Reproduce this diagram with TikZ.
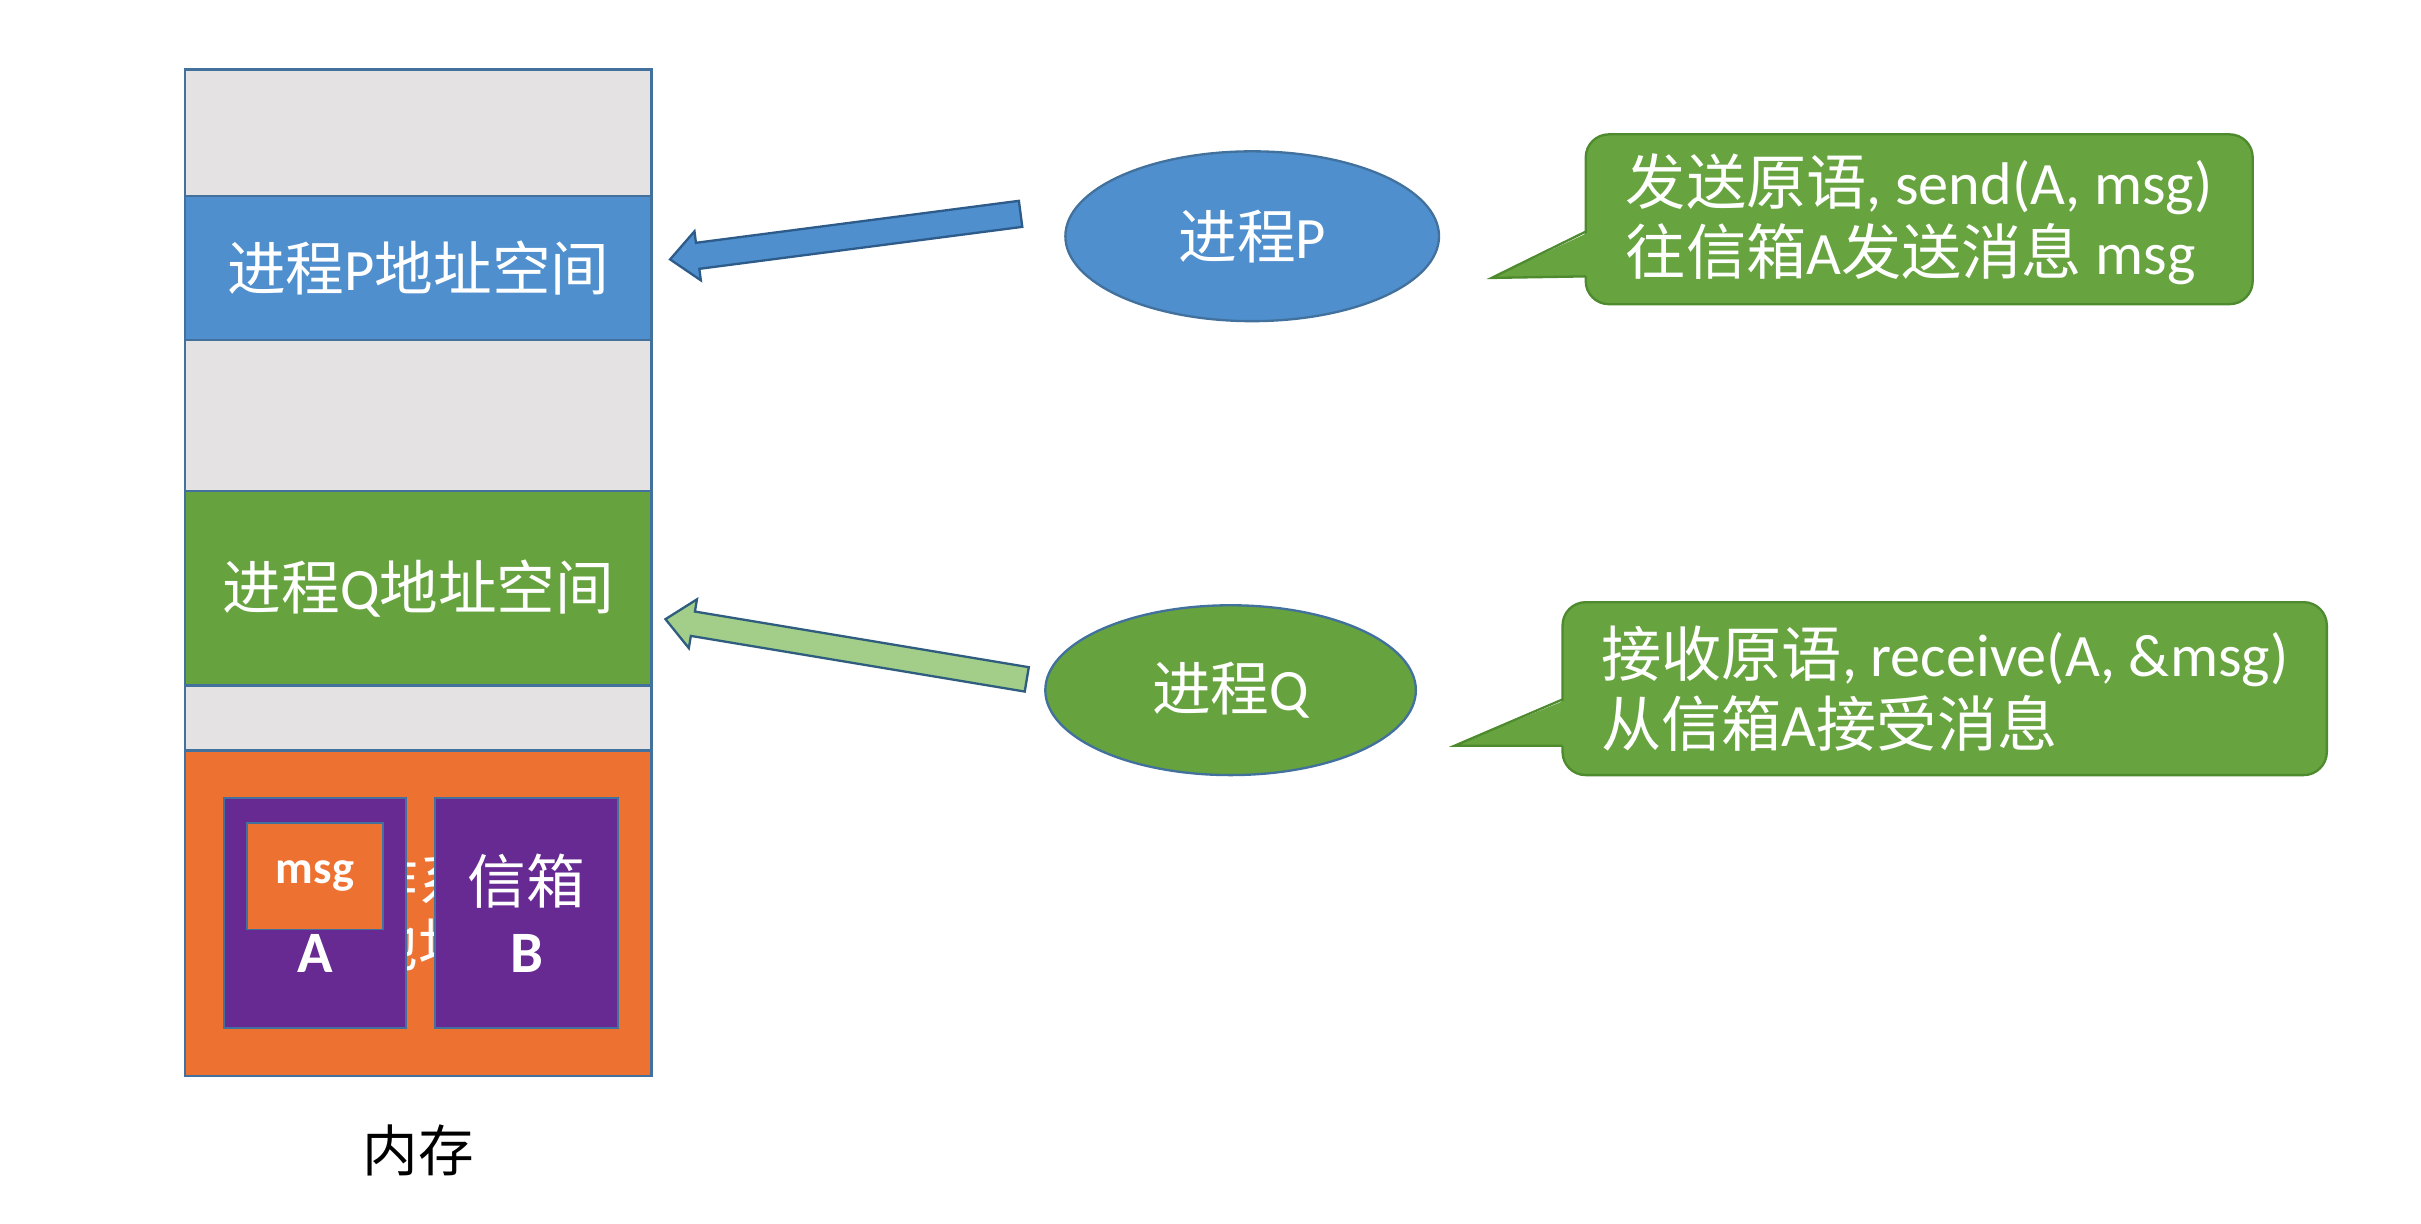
\documentclass[tikz,border=0pt]{standalone}
\usepackage{fontspec}
\setmainfont{Carlito}
\newfontfamily\cjk{Noto Sans CJK SC}
\newcommand{\zh}[1]{{\cjk #1}}
\usetikzlibrary{shapes.geometric, calc, positioning}

\definecolor{memgray}{HTML}{E4E2E3}
\definecolor{memline}{HTML}{41719C}
\definecolor{pblue}{HTML}{4F8FCE}
\definecolor{qgreen}{HTML}{66A23E}
\definecolor{kernorange}{HTML}{ED7131}
\definecolor{boxpurple}{HTML}{672A92}
\definecolor{notegreen}{HTML}{67A33F}
\definecolor{noteline}{HTML}{4E8A2E}
\definecolor{arrowgreen}{HTML}{A3CE89}
\definecolor{arrowblue}{HTML}{2E5C8A}
\definecolor{arrowline}{HTML}{2F5D80}

\begin{document}
\begin{tikzpicture}[x=1pt,y=-1pt,every node/.style={outer sep=0pt,inner sep=0pt,text=white,font=\fontsize{38}{45}\selectfont}]

\tikzstyle{band}=[draw=memline,line width=1.5pt,minimum width=302pt]
\tikzstyle{mailbox}=[draw=memline,line width=1.2pt,fill=boxpurple,minimum width=118pt,minimum height=149pt,align=center]
\tikzstyle{proc}=[ellipse,draw=memline,line width=1.5pt,minimum width=242pt,minimum height=110pt]
\tikzstyle{note}=[rectangle,rounded corners=15pt,draw=noteline,line width=1.5pt,fill=notegreen,align=left,font=\fontsize{39}{45}\selectfont]
\tikzstyle{blockarrow}=[line width=1.5pt,line join=miter]

\useasboundingbox (0,0) rectangle (1568,792.7);

% memory column
\node (freetop) [band,fill=memgray,minimum height=82pt] at (271,86) {};
\node (pspace) [band,fill=pblue,minimum height=93pt] at (271,173.5) {\zh{进程}P\zh{地址空间}};
\node (freemid) [band,fill=memgray,minimum height=98pt] at (271,269) {};
\node (qspace) [band,fill=qgreen,minimum height=126pt] at (271,381) {\zh{进程}Q\zh{地址空间}};
\node (freelow) [band,fill=memgray,minimum height=42pt] at (271,465) {};
\node (kernel) [band,fill=kernorange,minimum height=211pt] at (271,591.5) {};
\node (kerneltext) [align=center,font=\fontsize{38}{42}\selectfont] at (271,591) {\zh{操作系统}\\\zh{内核地址空间}};
\draw[memline,line width=1.5pt] (freetop.north west) rectangle (kernel.south east);

% mailboxes
\node (boxA) [mailbox] at (204,591.5) {\zh{信箱}\\\textbf{A}};
\node (boxB) [mailbox] at (341,591.5) {\zh{信箱}\\\textbf{B}};
\node (msgbox) [draw=memline,line width=1.2pt,fill=kernorange,minimum width=88pt,minimum height=69pt,font=\fontsize{30}{36}\selectfont\bfseries] at (204,567.5) {msg};

\node (memlabel) [text=black,font=\fontsize{36}{40}\selectfont] at (271,745) {\zh{内存}};

% processes
\node (procP) [proc,fill=pblue] at (811,153) {\zh{进程}P};
\node (procQ) [proc,fill=qgreen,minimum width=240pt] at (797,447) {\zh{进程}Q};

% block arrows
\coordinate (ptail) at ($(procP.west)+(-29,-14.5)$);
\coordinate (phead) at ($(pspace.east)+(12,-5.5)$);
\coordinate (pbase) at ($(phead)!18pt!(ptail)$);
\draw[blockarrow,fill=pblue,draw=arrowblue] ($(ptail)!8.5pt!90:(phead)$) -- ($(pbase)!8.5pt!-90:(ptail)$) -- ($(pbase)!16pt!-90:(ptail)$) -- (phead)
  -- ($(pbase)!16pt!90:(ptail)$) -- ($(pbase)!8.5pt!90:(ptail)$) -- ($(ptail)!8.5pt!-90:(phead)$) -- cycle;

\coordinate (qtail) at ($(procQ.west)+(-12,-7)$);
\coordinate (qhead) at ($(qspace.east)+(9,20)$);
\coordinate (qbase) at ($(qhead)!18pt!(qtail)$);
\draw[blockarrow,fill=arrowgreen,draw=arrowline] ($(qtail)!8pt!90:(qhead)$) -- ($(qbase)!8pt!-90:(qtail)$) -- ($(qbase)!16pt!-90:(qtail)$) -- (qhead)
  -- ($(qbase)!16pt!90:(qtail)$) -- ($(qbase)!8pt!90:(qtail)$) -- ($(qtail)!8pt!-90:(qhead)$) -- cycle;

% callouts
\node (sendnote) [note,minimum width=432pt,minimum height=110pt] at (1243,142) {\zh{发送原语}, send(A, msg)\\\zh{往信箱}A\zh{发送消息} msg};
\coordinate (sendtip) at ($(sendnote.south west)+(-61,-17)$);
\fill[notegreen] ($(sendnote.south west)+(3,-18)$) -- (sendtip) -- ($(sendnote.south west)+(3,-47)$) -- cycle;
\draw[noteline,line width=1.5pt,line join=miter] ($(sendnote.south west)+(0,-47)$) -- (sendtip) -- ($(sendnote.south west)+(0,-18)$);

\node (recvnote) [note,minimum width=495pt,minimum height=112pt] at (1259.5,446) {\zh{接收原语}, receive(A, \&msg)\\\zh{从信箱}A\zh{接受消息}};
\coordinate (recvtip) at ($(recvnote.south west)+(-70,-19)$);
\fill[notegreen] ($(recvnote.south west)+(3,-19)$) -- (recvtip) -- ($(recvnote.south west)+(3,-49)$) -- cycle;
\draw[noteline,line width=1.5pt,line join=miter] ($(recvnote.south west)+(0,-49)$) -- (recvtip) -- ($(recvnote.south west)+(0,-19)$);

\end{tikzpicture}
\end{document}
